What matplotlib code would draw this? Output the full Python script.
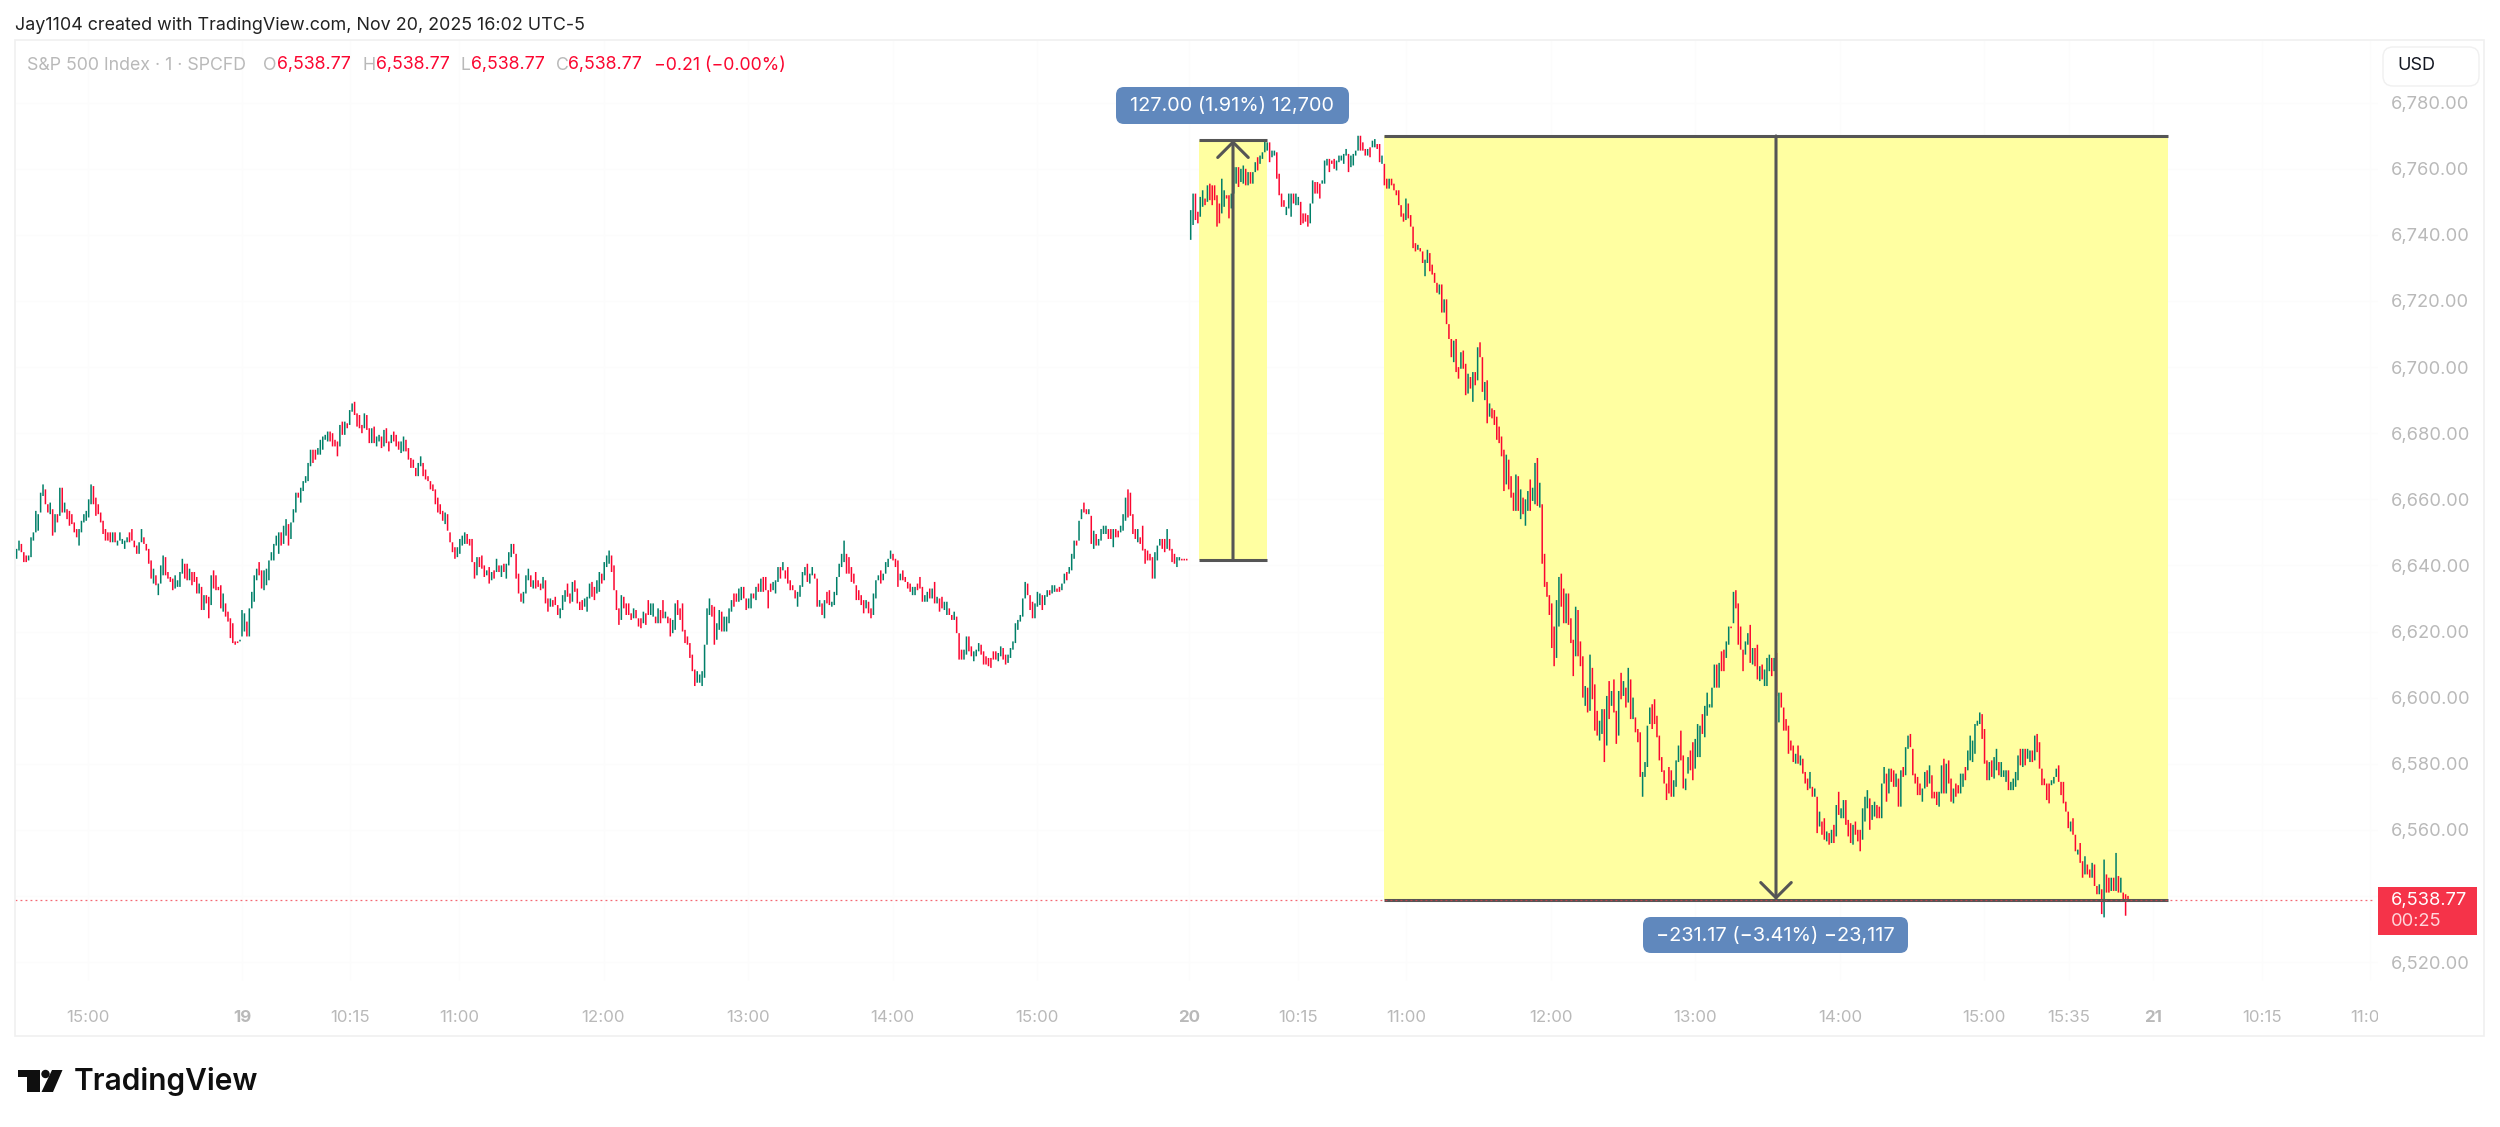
import numpy as np
import matplotlib

matplotlib.use("Agg")

import matplotlib.pyplot as plt
from matplotlib.patches import Circle, FancyBboxPatch, Polygon, Rectangle

plt.rcParams["font.family"] = ["Inter", "DejaVu Sans"]

# one minute bars as (open, close), points above PRICE_BASE
PRICE_BASE = 6500
nov18_bars = [
    (142,145),(144.5,147.5),(146.5,144),(144,141),(143,141),(141.5,143),(142.5,148.5),(147.5,150),(150,156.5),(150.5,155.5),
    (156,162),(161,164.5),(163,158.5),(158.5,156),(155.5,159),(157,149),(150,155.5),(155.5,153),(155,163.5),(163.5,156),
    (156,159),(157,154),(156.5,152),(155.5,152.5),(153,150),(151,148.5),(146,151),(150,153.5),(153,155.5),(153.5,156.5),
    (154.5,160),(158.5,164.5),(164,158.5),(160.5,155),(158.5,155.5),(156,153),(153.5,149.5),(151,147.5),(150,147.5),(150,147),
    (147,150),(150,147),(146,147.5),(147.5,150),(146.5,148),(145,147.5),(147,148.5),(150,147),(151,147.5),(147.5,145.5),
    (146,143.5),(143.5,147),(147,151),(148.5,146.5),(146.5,144.5),(145,140.5),(141.5,136),(134.5,139),(137,134),(131,134.5),
    (134.5,140),(137,143),(142.5,137),(138,136),(136.5,135),(136,132.5),(133,137),(133.5,135.5),(133.5,138),(137.5,142),
    (140.5,136),(140.5,135.5),(135.5,139),(138,134),(138,135),(136.5,131.5),(131.5,134.5),(133.5,126.5),(126.5,131),(131,128.5),
    (130.5,124),(128,137),(138.5,133),(137,132.5),(133.5,132.5),(134,127),(126,131.5),(128.5,124.5),(126,123),(124,118),
    (122.5,116.5),(117,116),(117,116.5),(117,117.5),
]
nov19_bars = [
    (118.5,126.5),(120,125.5),(123,118.5),(118.5,127),(127,132),(129,137),(135.5,139),(141,137),(138.5,133),(132.5,138.5),
    (134,139),(135.5,141.5),(141.5,144),(141.5,146.5),(146,149),(143.5,150),(150,146),(146.5,152),(149,154),(152.5,146),
    (148,153),(153,157),(156,162),(162,160.5),(159,163.5),(162.5,165.5),(165,167),(165.5,171),(170,175),(175,171),
    (175,172),(173.5,175.5),(173.5,178),(175,179),(178,179.5),(177.5,180.5),(180.5,177.5),(180,176),(178,176),(177.5,173),
    (176,182.5),(183.5,179.5),(179.5,183.5),(183,181.5),(182.5,187),(186.5,189),(189.5,185.5),(186,182),(185.5,181.5),(182.5,180),
    (181.5,186),(185.5,181),(181.5,177),(177,181.5),(182,177),(176,179),(177.5,179.5),(179,175.5),(176,181),(181.5,177),
    (177.5,174.5),(177,179.5),(180.5,177.5),(179.5,176),(177.5,175),(174,177.5),(174.5,179),(178,174.5),(175.5,172),(172.5,169.5),
    (172,169.5),(169.5,167),(167,171),(170,173),(171,167),(169,166),(167,165.5),(165.5,163),(164.5,162.5),(163,158.5),
    (160.5,156),(158.5,155.5),(156.5,153.5),(152.5,156),(155.5,150.5),(150,147),(147,144),(145.5,142),(142.5,145.5),(143.5,148),
    (146,149),(146.5,150),(149.5,146.5),(148,146),(148,141),(141,136),(137,142.5),(142.5,139.5),(143,139),(140,136.5),
    (137,138.5),(139.5,134.5),(135.5,138),(138.5,136),(138,142),(140,138),(136.5,140),(140.5,138),(136,140.5),(140,144),
    (142.5,146.5),(146.5,143.5),(143.5,136),(137.5,131.5),(131.5,129),(128.5,132),(131.5,137),(135.5,139),(137,133.5),(133,135.5),
    (138,133),(135.5,133.5),(134.5,132.5),(133,136.5),(135.5,128.5),(130,126),(127.5,130),(129.5,127.5),(130.5,128),(128,125),
    (124,127),(126.5,131),(129,132.5),(134.5,130.5),(131.5,128.5),(129,135),(135.5,132),(133,128.5),(129,126.5),(129.5,126.5),
    (127.5,130),(126,130.5),(130,134.5),(135,130.5),(133.5,129.5),(131.5,135.5),(132,138),(137.5,134.5),(135.5,141),(139.5,143),
    (140.5,144.5),(143,138),(140,132.5),(132.5,126.5),(127,122),(123.5,131),
    (130.5,127),(128.5,125),(128.5,125),(125.5,123.5),(124,127),(126.5,124),(124,121.5),(124,121),(122.5,126),(125.5,122),
    (129.5,125),(125,128.5),(124.5,128.5),(124.5,122.5),(122.5,127),(126.5,122.5),(129.5,124),(124,126),(124.5,122.5),(124,118.5),
    (119.5,123.5),(120.5,128.5),(129.5,125),(127,123.5),(128.5,120),(120.5,116.5),(118.5,116),(116.5,112),(113,108),(108.5,103.5),
    (104.5,108),(104.5,107),(103.5,108),(106,116),(116,127),(125,130),(128,124.5),(127.5,116),(117.5,122.5),(120.5,126.5),
    (126,120),(120,124.5),(120,124.5),(122.5,127),(126,129.5),(131.5,127.5),(131.5,129),(129,133),(129.5,133.5),(133.5,130),
    (130,126.5),(127,130),(127,131.5),(131.5,130),(129.5,133.5),(134.5,132),(132,136),(136.5,132),(136.5,132.5),(132.5,127),
    (134.5,132),(132.5,135),(131.5,135.5),(135,139.5),(139.5,136),(138.5,141),(138.5,136),(139.5,134.5),(135.5,132.5),(134,132.5),
    (132.5,130),(127.5,132),(130.5,134),(133.5,138),(137,139.5),(140.5,135),(134.5,137.5),(137,139.5),(137.5,136),(136,127.5),
    (127.5,129.5),(128.5,125),(124,129.5),(132,128.5),(132.5,128),(127.5,129),(128,132),(131,136.5),(136.5,140.5),(139.5,143.5),
    (141,147.5),(143.5,137.5),(142.5,137.5),(139.5,135),(137.5,134.5),(134,129.5),(132.5,129.5),(131,128),(129.5,125.5),(127,129.5),
    (129,125.5),(127,124),(125,131.5),(130,135.5),(135.5,137),(138.5,134.5),(135.5,137.5),(137.5,141),(139.5,142),(142,144.5),
    (143.5,141.5),(142,139.5),(141.5,133.5),(135.5,137.5),(138.5,135.5),(136.5,135),(135,133),(134.5,132),(131,133.5),(131,133.5),
    (134.5,132.5),(136.5,133),(133.5,129),(129,131),(129,132),(133,130),(130,133),(135,128.5),(128.5,130.5),(130,126),
    (130.5,127),(126.5,129),(125,129),(127,125),(125,123.5),(123.5,126),(124.5,119.5),(119.5,111.5),(114.5,111.5),(111.5,114.5),
    (113,118.5),(118.5,114),(115.5,112.5),(111,114),(112.5,114.5),(114,116.5),(116,113),(114,110),(112.5,110),(112,109.5),
    (112,109),(114,111.5),(114,111.5),(111,113.5),(112.5,115.5),(115,111.5),(113,110),(110.5,113),(112,115),(114.5,117),
    (116.5,122.5),(120.5,123.5),(123,125),(124.5,130),(130,135),(134.5,131),(131,126.5),(129,124),(124,128.5),(127.5,132),
    (128,131.5),(131,126.5),(128,131),(130.5,132.5),(132.5,131),(131.5,134),(132,134),(133,132),(133.5,132),(132.5,134.5),
    (134.5,137.5),(138,135.5),(137.5,139.5),(138.5,143.5),(142,147.5),(147.5,146),(147.5,153.5),(154,157),(159,156),(157,155.5),
    (155.5,157),(155,146.5),(145,150.5),(149.5,146),(146,148),(147.5,151),(149.5,152),(149.5,152),(151,148),(151,148),
    (145.5,151),(151,148.5),(150.5,148.5),(150,152),(150.5,155.5),(153.5,160.5),(163,154.5),(162,155),(155.5,149.5),(151,148),
    (147,151),(148.5,146.5),(152,144.5),(145,140.5),(144.5,141.5),(143.5,141.5),(142.5,136),(136,144),(141.5,146),(146,148),
    (148,145),(148,144),(145,151),(148,144.5),(145,141),(143.5,140.5),(139.5,142.5),(141.5,142.5),(142,141.5),(142,141.5),(142,141.5),
]
nov20_bars = [
    (238.5,247.5),(243,252.5),(252.5,244.5),(247,243.5),(245.5,251.5),(248.5,253.5),(251,249),(250,255),(255.5,250.5),(255,249),
    (255,250.5),(252,242.5),(249.5,243.5),(246.5,257),(248.5,253.5),(252,251),(252,245),(248,252.5),(252.5,260.5),(255.5,260.5),
    (260.5,254.5),(256,260),(255.5,261),(260,255),(255,259),(259,255.5),(255.5,259),(259,262),(263.5,259.5),(261.5,264),
    (263,265),(265,269),(265.5,268),(268,262),(263.5,265.5),(264,265.5),(265,257),(258.5,252),(252.5,248.5),(250.5,248.5),
    (246,248.5),(248,252.5),(245.5,252.5),(252.5,249.5),(249,252.5),(249,251.5),(250,243),(246.5,243.5),(246.5,244),(246,242.5),
    (243.5,249.5),(249.5,256.5),(256,252.5),(256,252.5),(255.5,251),(255.5,256.5),(255.5,262.5),(261,263),(263,259),(262.5,261.5),
    (263,260),(259.5,262.5),(262,264),(262.5,264),(261.5,264.5),(264,266),(264.5,259),(260.5,264),(261,264.5),(264,265.5),
    (265.5,270),(270,265.5),(268,265.5),(266,264),(264,266),(266.5,263.5),(266.5,268.5),(266.5,269),(267.5,266),(267.5,262),
    (261.5,264),(261.5,255),(257,254),(254,257),
    (257,255),(255.5,253.5),(253.5,252),(253.5,249),(249,245.5),(246.5,244),(244.5,251),(249.5,245),(246,242.5),(242.5,236),
    (237.5,235),(235.5,237),(236,235),(235,231.5),(227.5,232.5),(231.5,235.5),(234.5,229),(231,228),(228.5,225.5),(225.5,222.5),
    (222,225),(225,216.5),(216.5,220.5),(220.5,213),(213,208.5),(208.5,203),(201.5,208),(208.5,198.5),(200,196.5),(199.5,204.5),
    (205,199.5),(201,191.5),(192,198),(197,193.5),(189.5,198.5),(198.5,194.5),(196,206),(207.5,203),(203,192.5),(190,195.5),
    (196,183),(185,189),(187.5,184.5),(187,182.5),(185,178),(182,177),(179,173),(175,162.5),(164.5,173.5),(172,163),
    (167,160.5),(162,156.5),(156.5,167.5),(167,156.5),(154,163),(160.5,155.5),(152,160),(156.5,162.5),(166,156.5),(159.5,163.5),
    (158.5,171),(172.5,158),(157.5,165),(158.5,140.5),(143.5,133.5),
    (135,130.5),(131,125),(128.5,115),(121.5,109.5),(112,129.5),(121.5,136.5),(137.5,127.5),(133,122.5),(122.5,131.5),(131.5,122),
    (124,116.5),(117.5,106.5),(112.5,127.5),(126.5,112.5),(117,109.5),(112.5,100),(97.5,103.5),(103,95.5),(96,113),(109,99.5),
    (104,90),(96,88.5),(87,93),(89,96.5),(96.5,80.5),(85.5,100.5),(105,93.5),(97.5,102),(105.5,95.5),(96,86),
    (88.5,102),(107.5,99.5),(100.5,105),(103,97),(98.5,109),(105.5,93.5),(93.5,100),(94,89.5),(90.5,86.5),(89.5,76),
    (70,77.5),(76,80.5),(79,91.5),(92,97),(98,90.5),(99.5,92),(94.5,88),(88.5,81),(82,77.5),(78,74),
    (74,69),(79,71),(78,70),(70,75),(73,81),(80.5,85.5),(90,81),(82.5,72.5),(72,75.5),(77,82),
    (84,78),(86.5,75),(78.5,87.5),(82,92),(82,91.5),(95,89),(88,97.5),(94.5,101.5),(97,98),(97,103),
    (103,110),(110,103),(103,110.5),(114,108),(114.5,108),(112,117),(116,121.5),(121.5,121),(122.5,132),(132.5,127),
    (128.5,116),(121.5,114.5),(114.5,108),(113,117),(116,119.5),(122,110.5),(110,115),(115,109.5),(116,105.5),(105,109.5),
    (110,105.5),(103.5,108.5),(103.5,112),(108,113),(112,106.5),(108,112),(113.5,100.5),(92.5,101.5),(101.5,97),(97,90),
    (93.5,90),(91.5,83),(87,84),(85.5,80.5),(80,83),(85.5,80),(79.5,82.5),(81.5,77),(77.5,74),(75.5,72),
    (72.5,77.5),(73,70),(70,72.5),(70,59),(61,65.5),(62.5,58.5),(63.5,57),(56.5,59.5),(59,55.5),(56,60),
    (61.5,56),(58,67.5),(71.5,64.5),(63.5,66.5),(63.5,69),(69,61.5),(63,58),(62,56),(55.5,61.5),(62.5,58.5),
    (60,56.5),(60,53.5),(57,66.5),(62.5,70),(66.5,72),(69.5,60),(63,67.5),(64,68.5),(67.5,63.5),(67,63.5),
    (63.5,74),(74,79),(77,68.5),(71,78.5),(78.5,74.5),(78,73),(73,77),(75.5,67),(67,78),(79,76),
    (76.5,85),(84.5,88.5),(89,85),(84.5,76.5),(77,74),(76,70.5),(74,70.5),(68.5,72.5),(72.5,77.5),(78,73),
    (74,79.5),(76.5,69.5),(71.5,69.5),(71.5,67.5),(67,71.5),(71,79.5),(81.5,71),(71,80),(81,74),(75.5,68.5),
    (68,72.5),(74,70),(73.5,71),(71,77),(73,77),(79,75),(78,84),(81,88.5),(80.5,87),(83,92),
    (91.5,93),(92,95.5),(95,87.5),(90.5,80),(81,75),(75,80.5),(81,76),(75.5,82),(78,84.5),(80.5,76.5),
    (76,80.5),(76,78),(74.5,78),(78,72),(72,74.5),(72,75.5),(73,77.5),(75,82.5),
    (84.5,79.5),(79,84.5),(84.5,79.5),(81.5,84.5),(80.5,84),(84,80.5),(81,88.5),(89,83.5),(86.5,78.5),(78.5,73.5),
    (75.5,73.5),(74,69),(74,68),(73.5,75),(74,76),(76,78.5),(79.5,74.5),(74.5,70.5),(74.5,68),(68.5,65.5),
    (65.5,60.5),(59.5,62.5),(63.5,58.5),(58.5,53.5),(52.5,54),(56,50),(50.5,45.5),(46.5,52),(49.5,46.5),(48,45.5),
    (45.5,50),(49.5,43),(43,40.5),(40.5,43.5),(42,34.5),(33.5,51),(46.5,41),(45.5,41),(41.5,45.5),(45.5,41.5),
    (41.5,53),(46,41),(41,45.5),(41,38.5),(40.5,34),(40,38.77),
]

price_ticks = [6520, 6540, 6560, 6580, 6600, 6620, 6640, 6660, 6680, 6700, 6720, 6740, 6760, 6780]
time_tick_minutes = [-64, 0, 45, 90, 150, 210, 270, 330, 393, 438, 483, 543, 603, 663, 723, 758, 793, 838, 883]
time_tick_labels = ["15:00", "19", "10:15", "11:00", "12:00", "13:00", "14:00", "15:00", "20", "10:15",
                    "11:00", "12:00", "13:00", "14:00", "15:00", "15:35", "21", "10:15", "11:00"]
day_labels = {"19", "20", "21"}

last_price = 6538.77
long_low, long_high = 6641.7, 6768.7
short_high, short_low = 6769.94, 6538.77

GREEN = "#007f68"
RED = "#fb0630"
GREY_TEXT = "#b9b9b9"
YELLOW = "#ffffa1"
TOOL_GREY = "#555555"
PILL_BLUE = "#6088bd"

# layout in pixels, the chart pane is 2.41 px per minute and 3.305 px per point
W, H = 2500, 1127
PANE_LEFT, PANE_RIGHT, PANE_TOP, PANE_BOTTOM = 15, 2378, 40, 1036
OPEN_19_PX = 242
PX_PER_MIN = 2.41
PX_PER_POINT = 3.305
Y_6520_PX = 962


def px_to_minute(px):
    return (px - OPEN_19_PX) / PX_PER_MIN


def py_to_price(py):
    return 6520 + (Y_6520_PX - py) / PX_PER_POINT


def draw_session(ax, bars, start_minute, end_minute):
    values = np.array(bars) + PRICE_BASE
    opens, closes = values[:, 0], values[:, 1]
    minutes = np.linspace(start_minute, end_minute, len(bars))
    colors = [GREEN if c >= o else RED for o, c in zip(opens, closes)]
    lines = ax.vlines(minutes, np.minimum(opens, closes), np.maximum(opens, closes),
                      colors=colors, linewidth=1.1, zorder=4)
    lines.set_snap(False)


def draw_range_tool(ax, x0, x1, arrow_x, start_price, end_price):
    low, high = min(start_price, end_price), max(start_price, end_price)
    ax.add_patch(Rectangle((x0, low), x1 - x0, high - low, facecolor=YELLOW, edgecolor="none", zorder=2))
    ax.hlines([low, high], x0, x1, colors=TOOL_GREY, linewidth=2.2, zorder=5)
    ax.annotate("", xy=(arrow_x, end_price), xytext=(arrow_x, start_price),
                arrowprops={"arrowstyle": "->,head_length=0.55,head_width=0.55", "color": TOOL_GREY,
                            "lw": 2.2, "shrinkA": 0, "shrinkB": 0, "mutation_scale": 20}, zorder=6)


def draw_pill(overlay, x0, x1, y0, y1, label):
    overlay.add_patch(FancyBboxPatch((x0 + 6, y0 + 6), x1 - x0 - 12, y1 - y0 - 12, boxstyle="round,pad=6,rounding_size=8",
                                     facecolor=PILL_BLUE, edgecolor="none", zorder=8))
    overlay.text((x0 + x1) / 2, (y0 + y1) / 2 + 0.5, label, color="white", fontsize=14.3, ha="center", va="center", zorder=9)


def main():
    fig = plt.figure(figsize=(W / 100, H / 100), dpi=100, facecolor="white")
    ax = fig.add_axes([PANE_LEFT / W, 1 - PANE_BOTTOM / H, (PANE_RIGHT - PANE_LEFT) / W, (PANE_BOTTOM - PANE_TOP) / H])
    ax.set_xlim(px_to_minute(PANE_LEFT), px_to_minute(PANE_RIGHT))
    ax.set_ylim(py_to_price(PANE_BOTTOM), py_to_price(PANE_TOP))
    for spine in ax.spines.values():
        spine.set_visible(False)

    ax.set_xticks([])
    ax.yaxis.tick_right()
    ax.set_yticks(price_ticks)
    ax.set_yticklabels([f"{p:,.2f}" for p in price_ticks])
    ax.tick_params(axis="y", length=0, pad=9.2, labelsize=13.2, labelcolor=GREY_TEXT)

    grid_bottom = py_to_price(980)
    ax.hlines(price_ticks, *ax.get_xlim(), colors="#fcfcfc", linewidth=0.8, zorder=1)
    ax.vlines(time_tick_minutes, grid_bottom, ax.get_ylim()[1], colors="#fcfcfc", linewidth=0.8, zorder=1)

    draw_range_tool(ax, px_to_minute(1199), px_to_minute(1267), px_to_minute(1233), long_low, long_high)
    draw_range_tool(ax, px_to_minute(1384), px_to_minute(2167.5), px_to_minute(1776), short_high, short_low)

    draw_session(ax, nov18_bars, px_to_minute(16.6), px_to_minute(240))
    draw_session(ax, nov19_bars, 0, 392)
    draw_session(ax, nov20_bars, px_to_minute(1190.7), px_to_minute(2128))

    ax.hlines(last_price, ax.get_xlim()[0], px_to_minute(2373), colors="#f23645", linewidth=0.9,
              linestyles=(0, (1.5, 2.5)), alpha=0.75, zorder=5)

    label_y = py_to_price(1017)
    for minute, label in zip(time_tick_minutes, time_tick_labels):
        weight = "bold" if label in day_labels else "normal"
        ax.text(minute, label_y, label, ha="center", va="center", fontsize=12.2, color=GREY_TEXT,
                fontweight=weight, clip_on=True)

    # everything that sits on the page rather than on the price scale
    overlay = fig.add_axes([0, 0, 1, 1])
    overlay.set_xlim(0, W)
    overlay.set_ylim(H, 0)
    overlay.axis("off")
    overlay.patch.set_alpha(0)

    overlay.add_patch(Rectangle((14.5, 40), 2484 - 14.5, 996, facecolor="none", edgecolor="#f0f0f0", linewidth=1.2))
    overlay.text(15, 25, "Jay1104 created with TradingView.com, Nov 20, 2025 16:02 UTC-5", fontsize=12.9,
                 color="#222222", va="center")

    legend_y = 65
    overlay.text(27, legend_y, "S&P 500 Index · 1 · SPCFD", fontsize=12.8, color=GREY_TEXT, va="center")
    value_text = "6,538.77"
    for letter, letter_x, value_x in [("O", 263, 277), ("H", 363, 376), ("L", 461, 471), ("C", 556, 568)]:
        overlay.text(letter_x, legend_y, letter, fontsize=12.8, color=GREY_TEXT, va="center")
        overlay.text(value_x, legend_y, value_text, fontsize=12.8, color=RED, va="center")
    overlay.text(654, legend_y, "−0.21 (−0.00%)", fontsize=12.8, color=RED, va="center")

    overlay.add_patch(FancyBboxPatch((2391, 55), 80, 23, boxstyle="round,pad=8,rounding_size=10",
                                     facecolor="white", edgecolor="#f0f0f0", linewidth=1.0))
    overlay.text(2397, 66, "USD", fontsize=13, color="#131722", va="center")

    draw_pill(overlay, 1116, 1349, 87, 124, "127.00 (1.91%) 12,700")
    draw_pill(overlay, 1643, 1908, 917, 953, "−231.17 (−3.41%) −23,117")

    overlay.add_patch(Rectangle((2378, 887), 99, 48, facecolor="#f53349", edgecolor="none", zorder=8))
    overlay.text(2391, 901, f"{last_price:,.2f}", color="white", fontsize=13.2, va="center", zorder=9)
    overlay.text(2391, 921, "00:25", color="#ffd5da", fontsize=13.2, va="center", zorder=9)

    overlay.add_patch(Polygon([(18, 1070), (39.5, 1070), (39.5, 1092), (27, 1092), (27, 1077), (18, 1077)],
                              facecolor="#0f0f0f", edgecolor="none"))
    overlay.add_patch(Circle((45.5, 1074), 4.2, facecolor="#0f0f0f", edgecolor="none"))
    overlay.add_patch(Polygon([(52, 1070), (62.5, 1070), (53, 1092), (41.5, 1092)], facecolor="#0f0f0f", edgecolor="none"))
    overlay.text(74, 1081, "TradingView", fontsize=21.5, fontweight="semibold", color="#0f0f0f", va="center")

    fig.savefig("out.png", dpi=100, facecolor="white")
    plt.close(fig)


if __name__ == "__main__":
    main()
